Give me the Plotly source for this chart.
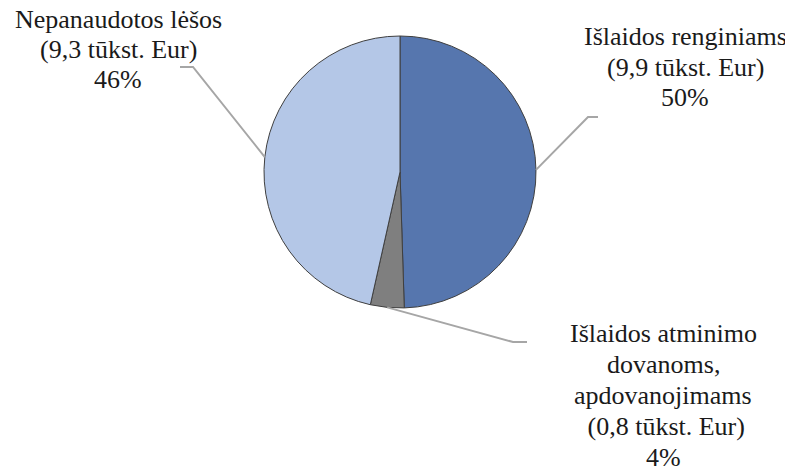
import math
import plotly.graph_objects as go

labels = ["Išlaidos renginiams", "Išlaidos atminimo dovanoms, apdovanojimams", "Nepanaudotos lėšos"]
values = [9.9, 0.8, 9.3]
pct_text = ["50%", "4%", "46%"]
value_text = ["9,9", "0,8", "9,3"]
colors = ["#5676AE", "#7F7F7F", "#B4C7E7"]

OFF = 8  # page body margin
W, H = 793 - OFF, 468 - OFF
CX, CY, R = 400 - OFF, 172 - OFF, 136  # pie centre / radius in px
FONT = "Liberation Serif"

label_lines = [
    ["Išlaidos renginiams", "(%s tūkst. Eur)" % value_text[0], pct_text[0]],
    ["Išlaidos atminimo", "dovanoms,", "apdovanojimams", "\u00a0(%s tūkst. Eur)" % value_text[1], pct_text[1]],
    ["Nepanaudotos lėšos", "(%s tūkst. Eur)" % value_text[2], pct_text[2]],
]
# label layout: centre x, first line centre y, line spacing (px, reference frame)
label_layout = [(685, 37, 30), (663, 333, 31.2), (118, 20, 29.5)]
elbows = [[(588, 117), (598, 117)], [(513, 342), (527, 342)], [(193, 67), (180, 67)]]

def px2paper(x, y):
    return (x - OFF) / W, 1 - (y - OFF) / H

fig = go.Figure()
fig.add_trace(go.Pie(
    labels=labels, values=values, sort=False, direction="clockwise", rotation=0,
    marker=dict(colors=colors, line=dict(color="#3F3F3F", width=1)),
    textinfo="none", hoverinfo="label+value+percent", showlegend=False,
    domain=dict(x=[(CX - R) / W, (CX + R) / W], y=[1 - (CY + R) / H, 1 - (CY - R) / H]),
))

total = sum(values)
cum = 0
shapes = []
annotations = []
for i, v in enumerate(values):
    mid = (cum + v / 2) / total
    cum += v
    ang = 2 * math.pi * mid  # clockwise from 12 o'clock
    sx = CX + OFF + R * math.sin(ang)
    sy = CY + OFF - R * math.cos(ang)
    pts = [(sx, sy)] + elbows[i]
    path = ""
    for j, (x, y) in enumerate(pts):
        px, py = px2paper(x, y)
        path += ("M" if j == 0 else " L") + " %f,%f" % (px, py)
    shapes.append(dict(type="path", xref="paper", yref="paper", path=path,
                       line=dict(color="#A6A6A6", width=2)))
    lx, ly0, sp = label_layout[i]
    for k, line in enumerate(label_lines[i]):
        ax, ay = px2paper(lx, ly0 + k * sp)
        annotations.append(dict(text=line, x=ax, y=ay, xref="paper", yref="paper",
                                showarrow=False, xanchor="center", yanchor="middle",
                                font=dict(family=FONT, size=26, color="#1a1a1a"),
                                align="center"))

fig.update_layout(width=W, height=H, margin=dict(l=0, r=0, t=0, b=0),
                  font=dict(family=FONT),
                  paper_bgcolor="white", plot_bgcolor="white",
                  shapes=shapes, annotations=annotations)
fig.write_html("out.html")
